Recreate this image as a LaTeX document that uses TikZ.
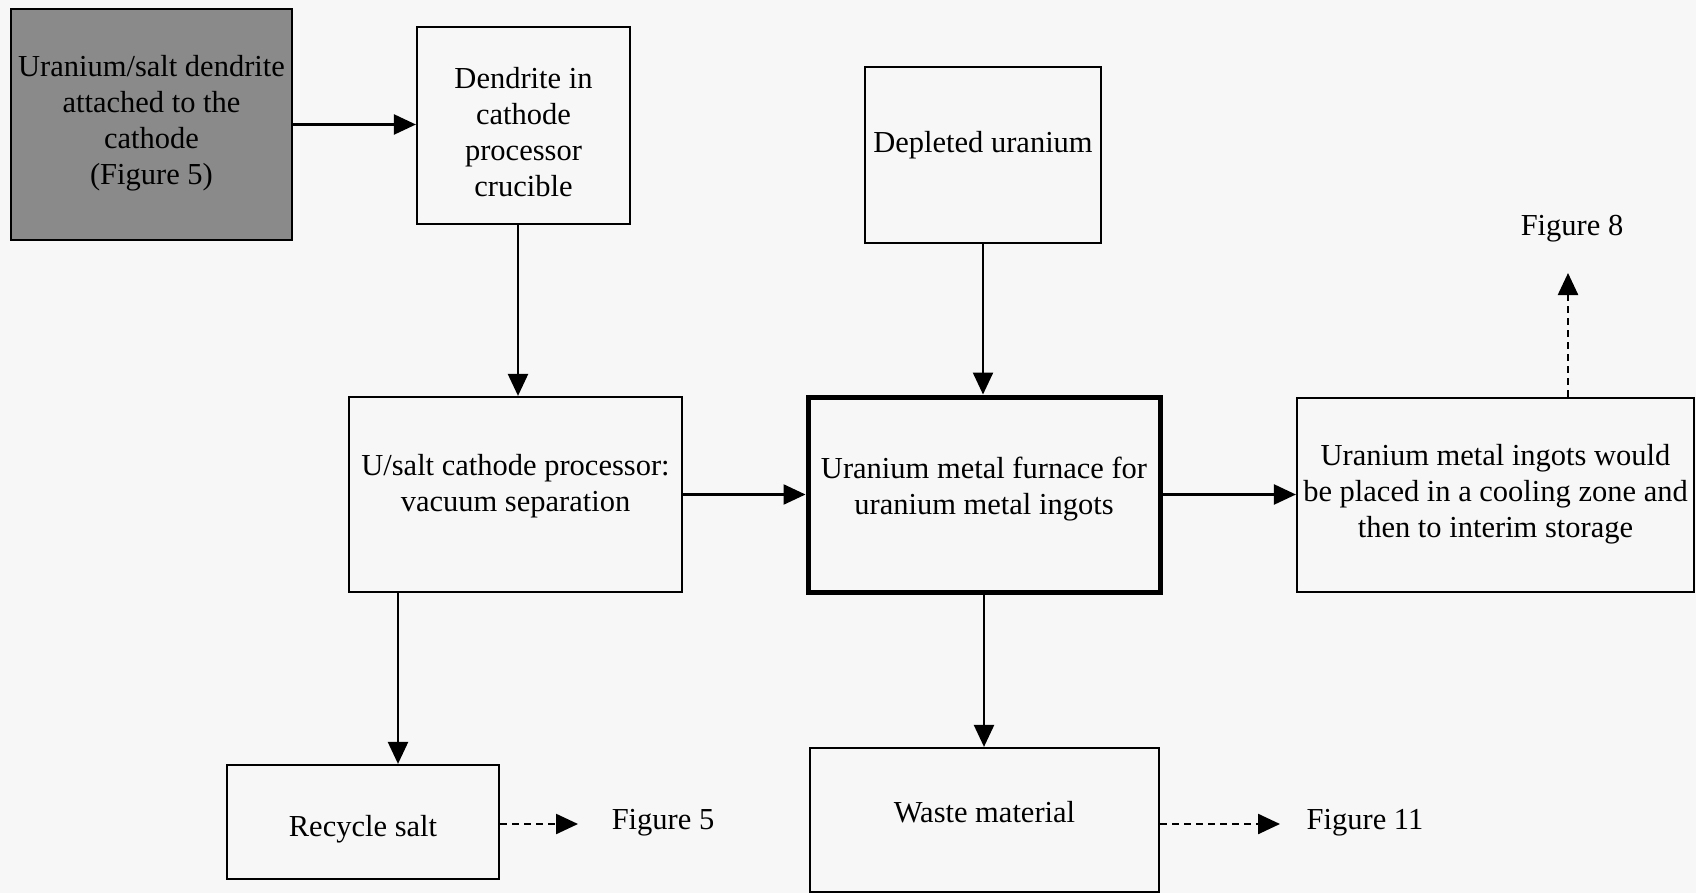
\documentclass[tikz,border=0pt]{standalone}
\usepackage{fontspec}
\setmainfont{Liberation Serif}
\usetikzlibrary{arrows.meta}
\definecolor{bgc}{RGB}{247,247,247}
\definecolor{shade}{RGB}{138,138,138}
\begin{document}
\begin{tikzpicture}[x=1pt,y=-1pt,
  box/.style={draw=black,line width=2.2pt,inner sep=0pt},
  txt/.style={align=center,inner sep=0pt,font=\fontsize{30.5}{36}\selectfont},
  arr/.style={line width=2.4pt,-{Triangle[length=22pt,width=20pt]}},
  darr/.style={arr,dash pattern=on 7pt off 5pt}]
\fill[bgc] (0,0) rectangle (1696,893);
\useasboundingbox (0,0) rectangle (1696,893);
% boxes
\node[box,fill=shade,minimum width=281pt,minimum height=231pt] (A) at (151.5,124.5) {};
\node[box,minimum width=213pt,minimum height=197pt] (B) at (523.5,125.5) {};
\node[box,minimum width=236pt,minimum height=176pt] (C) at (983,155) {};
\node[box,minimum width=333pt,minimum height=195pt] (D) at (515.5,494.5) {};
\node[box,line width=5pt,minimum width=352pt,minimum height=195pt] (E) at (984,494.5) {};
\node[box,minimum width=397pt,minimum height=194pt] (F) at (1495.5,495) {};
\node[box,minimum width=272pt,minimum height=114pt] (G) at (363,822) {};
\node[box,minimum width=349pt,minimum height=144pt] (H) at (984.5,820) {};
% texts
\node[txt] (tA) at (151.5,123) {Uranium/salt dendrite\\attached to the\\cathode\\(Figure 5)};
\node[txt] (tB) at (523.5,132) {Dendrite in\\cathode\\processor\\crucible};
\node[txt] (tC) at (983,145) {Depleted uranium};
\node[txt] (tD) at (515.5,486) {U/salt cathode processor:\\vacuum separation};
\node[txt] (tE) at (984,489) {Uranium metal furnace for\\uranium metal ingots};
\node[txt] (tF) at (1495.5,494) {Uranium metal ingots would\\be placed in a cooling zone and\\then to interim storage};
\node[txt] (tG) at (363,829) {Recycle salt};
\node[txt] (tH) at (984.5,812) {Waste material};
\node[txt] (f8) at (1572,229) {Figure 8};
\node[txt] (f5) at (663,823) {Figure 5};
\node[txt] (f11) at (1365,823) {Figure 11};
% connectors
\coordinate (bd) at (518,0);
\coordinate (dg) at (398,0);
\coordinate (fx) at (1568,0);
\coordinate (f8b) at (1568,273);
\coordinate (g5) at (578,824);
\coordinate (h11) at (1280,824);
\draw[arr] (A.east) -- (A.east -| B.west);
\draw[arr] (B.south -| bd) -- (D.north -| bd);
\draw[arr] (C.south) -- (C.south |- E.north);
\draw[arr] (D.east) -- (D.east -| E.west);
\draw[arr] (E.east) -- (E.east -| F.west);
\draw[arr] (D.south -| dg) -- (G.north -| dg);
\draw[arr] (E.south) -- (E.south |- H.north);
\draw[darr] (F.north -| fx) -- (f8b);
\draw[darr] (G.east |- g5) -- (g5);
\draw[darr] (H.east |- h11) -- (h11);
\end{tikzpicture}
\end{document}
